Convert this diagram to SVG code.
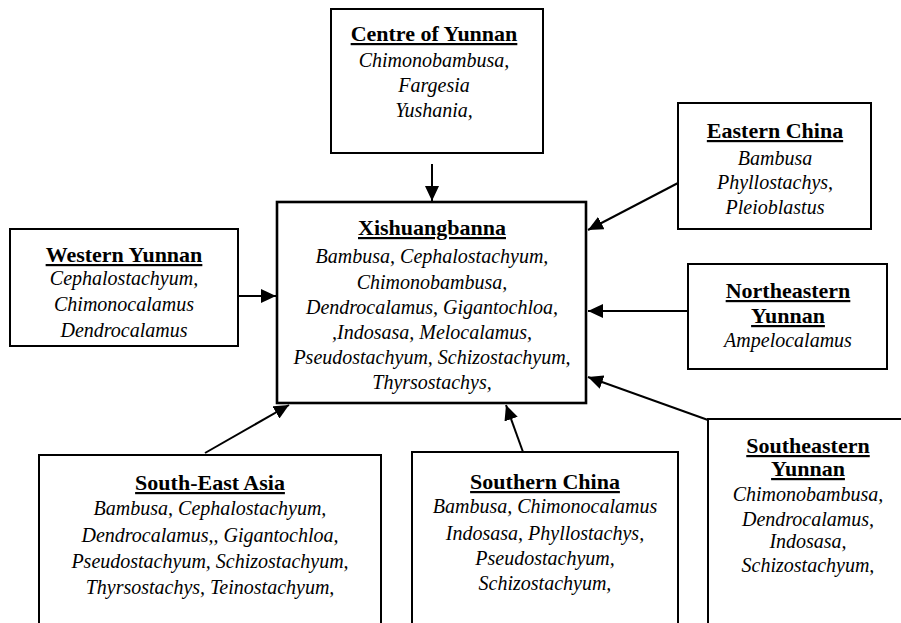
<svg xmlns="http://www.w3.org/2000/svg" width="901" height="623" viewBox="0 0 901 623">
<defs>
<style>
.box{fill:#fff;stroke:#000;stroke-width:2}
.main{fill:#fff;stroke:#000;stroke-width:2.6}
.t{font-family:"Liberation Serif","Times New Roman",serif;font-weight:bold;font-size:22px;text-anchor:middle;text-decoration:underline;fill:#000}
.i{font-family:"Liberation Serif","Times New Roman",serif;font-style:italic;font-size:20px;text-anchor:middle;fill:#000}
.c{stroke:#000;stroke-width:2;fill:none;marker-end:url(#ah)}
</style>
<marker id="ah" markerUnits="userSpaceOnUse" markerWidth="16" markerHeight="14" refX="15" refY="7" orient="auto">
<path d="M0,0 L15,7 L0,14 Z" fill="#000"/>
</marker>
</defs>
<rect width="901" height="623" fill="#fff"/>
<g id="connectors">
<line class="c" x1="432" y1="164" x2="432" y2="201"/>
<line class="c" x1="678" y1="183" x2="588" y2="230"/>
<line class="c" x1="238" y1="296" x2="276" y2="296"/>
<line class="c" x1="688" y1="311" x2="588" y2="311"/>
<line class="c" x1="708" y1="420" x2="588" y2="377"/>
<line class="c" x1="523" y1="452" x2="506" y2="405"/>
<line class="c" x1="205" y1="453" x2="289" y2="405"/>
</g>
<g id="centre-yunnan">
<rect class="box" x="331" y="9" width="212" height="144"/>
<text class="t" x="434" y="41">Centre of Yunnan</text>
<text class="i" x="434" y="67">Chimonobambusa,</text>
<text class="i" x="434" y="92">Fargesia</text>
<text class="i" x="434" y="117">Yushania,</text>
</g>
<g id="xishuangbanna">
<rect class="main" x="277" y="202" width="309" height="201"/>
<text class="t" x="432" y="235">Xishuangbanna</text>
<text class="i" x="432" y="263">Bambusa, Cephalostachyum,</text>
<text class="i" x="432" y="289">Chimonobambusa,</text>
<text class="i" x="432" y="314">Dendrocalamus, Gigantochloa,</text>
<text class="i" x="432" y="339">,Indosasa,  Melocalamus,</text>
<text class="i" x="432" y="364">Pseudostachyum, Schizostachyum,</text>
<text class="i" x="432" y="389">Thyrsostachys,</text>
</g>
<g id="western-yunnan">
<rect class="box" x="10" y="229" width="228" height="117"/>
<text class="t" x="124" y="262">Western Yunnan</text>
<text class="i" x="124" y="285">Cephalostachyum,</text>
<text class="i" x="124" y="311">Chimonocalamus</text>
<text class="i" x="124" y="337">Dendrocalamus</text>
</g>
<g id="eastern-china">
<rect class="box" x="678" y="103" width="193" height="126"/>
<text class="t" x="775" y="138">Eastern China</text>
<text class="i" x="775" y="165">Bambusa</text>
<text class="i" x="775" y="189">Phyllostachys,</text>
<text class="i" x="775" y="214">Pleioblastus</text>
</g>
<g id="northeastern-yunnan">
<rect class="box" x="688" y="264" width="199" height="105"/>
<text class="t" x="788" y="298">Northeastern</text>
<text class="t" x="788" y="323">Yunnan</text>
<text class="i" x="788" y="347">Ampelocalamus</text>
</g>
<g id="south-east-asia">
<rect class="box" x="39" y="455" width="342" height="190"/>
<text class="t" x="210" y="490">South-East Asia</text>
<text class="i" x="210" y="515">Bambusa, Cephalostachyum,</text>
<text class="i" x="210" y="542">Dendrocalamus,, Gigantochloa,</text>
<text class="i" x="210" y="568">Pseudostachyum,  Schizostachyum,</text>
<text class="i" x="210" y="594">Thyrsostachys, Teinostachyum,</text>
</g>
<g id="southern-china">
<rect class="box" x="412" y="452" width="266" height="190"/>
<text class="t" x="545" y="489">Southern China</text>
<text class="i" x="545" y="513">Bambusa, Chimonocalamus</text>
<text class="i" x="545" y="540">Indosasa, Phyllostachys,</text>
<text class="i" x="545" y="565">Pseudostachyum,</text>
<text class="i" x="545" y="590">Schizostachyum,</text>
</g>
<g id="southeastern-yunnan">
<rect class="box" x="708" y="419" width="220" height="230"/>
<text class="t" x="808" y="453">Southeastern</text>
<text class="t" x="808" y="476">Yunnan</text>
<text class="i" x="808" y="501">Chimonobambusa,</text>
<text class="i" x="808" y="526">Dendrocalamus,</text>
<text class="i" x="808" y="548">Indosasa,</text>
<text class="i" x="808" y="572">Schizostachyum,</text>
</g>
</svg>
